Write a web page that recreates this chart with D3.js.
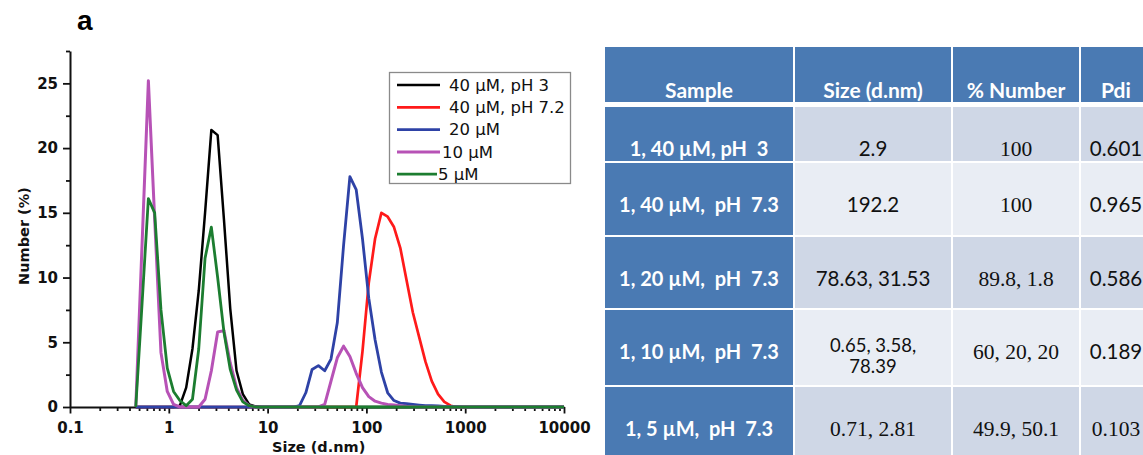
<!DOCTYPE html>
<html>
<head>
<meta charset="utf-8">
<script src="https://cdn.jsdelivr.net/npm/d3@7"></script>
<style>
  html, body { margin: 0; padding: 0; background: #ffffff; }
  svg { display: block; }
  text { white-space: pre; }
</style>
</head>
<body>
<svg id="fig" width="1143" height="455"></svg>
<script>
// Size classes (d.nm) of the number distribution
const sizeBins = [0.4632, 0.5365, 0.6213, 0.7195, 0.8332, 0.9649, 1.117, 1.294, 1.499, 1.736,
  2.01, 2.328, 2.696, 3.122, 3.615, 4.187, 4.849, 5.615, 6.503, 7.531,
  8.721, 10.1, 11.7, 13.54, 15.69, 18.17, 21.04, 24.36, 28.21, 32.67,
  37.84, 43.82, 50.75, 58.77, 68.06, 78.82, 91.28, 105.7, 122.4, 141.8,
  164.2, 190.1, 220.2, 255.0, 295.3, 342.0, 396.1, 458.7, 531.2, 615.1,
  712.4, 825.0, 955.4, 1106, 1281, 1484, 1718, 1990, 2305, 2669,
  3091, 3580, 4145, 4801, 5560, 6439, 7456, 8635, 10000];

// Number (%) per size class
const num40pH3 = [0, 0, 0, 0, 0, 0, 0, 0.1, 1.5, 4.5,
  9.0, 15.0, 21.4, 21.0, 14.5, 7.6, 2.8, 1.0, 0.2, 0.05,
  0, 0, 0, 0, 0, 0, 0, 0, 0, 0,
  0, 0, 0, 0, 0, 0, 0, 0, 0, 0,
  0, 0, 0, 0, 0, 0, 0, 0, 0, 0,
  0, 0, 0, 0, 0, 0, 0, 0, 0, 0,
  0, 0, 0, 0, 0, 0, 0, 0, 0];
const num40pH72 = [0, 0, 0, 0, 0, 0, 0, 0, 0, 0,
  0, 0, 0, 0, 0, 0, 0, 0, 0, 0,
  0, 0, 0, 0, 0, 0, 0, 0, 0, 0,
  0, 0, 0, 0, 0, 0, 4.3, 9.6, 13.0, 15.0,
  14.7, 13.9, 12.3, 9.8, 7.3, 5.4, 3.5, 2.0, 1.0, 0.4,
  0.1, 0, 0, 0, 0, 0, 0, 0, 0, 0,
  0, 0, 0, 0, 0, 0, 0, 0, 0];
const num20 = [0, 0, 0, 0, 0, 0, 0, 0, 0, 0,
  0, 0, 0, 0, 0, 0, 0, 0, 0, 0,
  0, 0, 0, 0, 0, 0, 0.1, 1.1, 2.9, 3.2,
  2.8, 3.7, 6.5, 12.5, 17.8, 16.8, 13.0, 8.4, 5.2, 2.7,
  1.1, 0.5, 0.3, 0.25, 0.2, 0.15, 0.1, 0.1, 0.08, 0.05,
  0.03, 0.02, 0.01, 0, 0, 0, 0, 0, 0, 0,
  0, 0, 0, 0, 0, 0, 0, 0, 0];
const num10 = [0, 12.6, 25.2, 14.5, 4.2, 1.2, 0.2, 0, 0, 0,
  0, 0.6, 2.8, 5.8, 5.9, 3.4, 1.5, 0.5, 0.1, 0,
  0, 0, 0, 0, 0, 0, 0, 0, 0, 0,
  0.2, 2.0, 3.8, 4.7, 3.9, 2.6, 1.5, 0.8, 0.45, 0.3,
  0.2, 0.15, 0.1, 0.05, 0.02, 0, 0, 0, 0, 0,
  0, 0, 0, 0, 0, 0, 0, 0, 0, 0,
  0, 0, 0, 0, 0, 0, 0, 0, 0];
const num5 = [0, 8.0, 16.1, 15.0, 7.5, 3.0, 1.2, 0.5, 0.1, 0.6,
  4.5, 11.5, 13.9, 10.0, 5.8, 2.9, 1.3, 0.4, 0.1, 0,
  0, 0, 0, 0, 0, 0, 0, 0, 0, 0,
  0, 0, 0, 0, 0, 0, 0, 0, 0, 0,
  0, 0, 0, 0, 0, 0, 0, 0, 0, 0,
  0, 0, 0, 0, 0, 0, 0, 0, 0, 0,
  0, 0, 0, 0, 0, 0, 0, 0, 0];

const seriesNames = ["40 \u03bcM, pH 3", "40 \u03bcM, pH 7.2", "20 \u03bcM", "10 \u03bcM", "5 \u03bcM"];
const seriesValues = [num40pH3, num40pH72, num20, num10, num5];

const xTickValues = [0.1, 1, 10, 100, 1000, 10000];
const xTickLabels = ["0.1", "1", "10", "100", "1000", "10000"];
const yTickValues = [0, 5, 10, 15, 20, 25];
const yTickLabels = ["0", "5", "10", "15", "20", "25"];

// Summary table
const tableHeader = ["Sample", "Size (d.nm)", "% Number", "Pdi"];
const tableSample = ["1, 40 \u00b5M, pH  3", "1, 40 \u00b5M,  pH  7.3", "1, 20 \u00b5M,  pH  7.3", "1, 10 \u00b5M,  pH  7.3", "1, 5 \u00b5M,  pH  7.3"];
const tableSize = [["2.9"], ["192.2"], ["78.63, 31.53"], ["0.65, 3.58,", "78.39"], ["0.71, 2.81"]];
const tableNumber = ["100", "100", "89.8, 1.8", "60, 20, 20", "49.9, 50.1"];
const tablePdi = ["0.601", "0.965", "0.586", "0.189", "0.103"];

// ---------- styles ----------
const seriesColors = ["#000000", "#ff1a1a", "#2e42a6", "#b752b6", "#1c7d30"];
const seriesWidths = [2.5, 2.7, 2.8, 3.0, 2.8];
const tickFont = "'DejaVu Sans', sans-serif";

const svg = d3.select("#fig");

// ---------- chart ----------
const x = d3.scaleLog().domain([0.1, 10000]).range([70, 564]);
const y = d3.scaleLinear().domain([0, 27.5]).range([407, 51]);

svg.append("text")
  .attr("x", 77).attr("y", 30)
  .attr("font-family", "'Liberation Sans', Arial, sans-serif")
  .attr("font-weight", "bold").attr("font-size", 28)
  .text("a");

const minorX = [];
[0.1, 1, 10, 100, 1000].forEach(d => { for (let k = 2; k <= 9; k++) minorX.push(d * k); });
const minorY = [2.5, 7.5, 12.5, 17.5, 22.5, 27.5];

const gx = svg.append("g").attr("transform", `translate(0,${y(0)})`);
gx.append("g").call(d3.axisBottom(x).tickValues(minorX).tickSize(4).tickSizeOuter(0).tickFormat(""))
  .call(g => g.select(".domain").remove());
gx.append("g").call(d3.axisBottom(x).tickValues(xTickValues).tickSize(6.5).tickSizeOuter(0)
  .tickFormat((d, i) => xTickLabels[i]));
gx.selectAll("text").attr("y", 15).attr("dy", "0.71em")
  .attr("font-family", tickFont).attr("font-weight", "bold").attr("font-size", 15).attr("fill", "#111");

const gy = svg.append("g").attr("transform", `translate(${x(0.1)},0)`);
gy.append("g").call(d3.axisLeft(y).tickValues(minorY).tickSize(4).tickSizeOuter(0).tickFormat(""))
  .call(g => g.select(".domain").remove());
gy.append("g").call(d3.axisLeft(y).tickValues(yTickValues).tickSize(7).tickSizeOuter(0)
  .tickFormat((d, i) => yTickLabels[i]));
gy.selectAll("text").attr("x", -12)
  .attr("font-family", tickFont).attr("font-weight", "bold").attr("font-size", 15).attr("fill", "#111");

svg.selectAll(".domain").attr("stroke", "#111").attr("stroke-width", 2);
svg.selectAll(".tick line").attr("stroke", "#111").attr("stroke-width", 1.8);

svg.append("text")
  .attr("transform", `translate(29,236) rotate(-90)`)
  .attr("text-anchor", "middle")
  .attr("font-family", tickFont).attr("font-weight", "bold").attr("font-size", 14.5).attr("fill", "#111")
  .text("Number (%)");
svg.append("text")
  .attr("x", 272).attr("y", 452)
  .attr("font-family", tickFont).attr("font-weight", "bold").attr("font-size", 14.5).attr("fill", "#111")
  .text("Size (d.nm)");

const line = d3.line().x(d => x(d[0])).y(d => y(d[1]));
svg.append("g").selectAll("path")
  .data(seriesValues.map(vals => vals.map((v, i) => [sizeBins[i], v])))
  .join("path")
  .attr("d", line)
  .attr("fill", "none")
  .attr("stroke", (d, i) => seriesColors[i])
  .attr("stroke-width", (d, i) => seriesWidths[i])
  .attr("stroke-linejoin", "round");

// legend
const legend = svg.append("g");
legend.append("rect")
  .attr("x", 389.5).attr("y", 72.5).attr("width", 181).attr("height", 111)
  .attr("fill", "#fff").attr("stroke", "#8a8a8a").attr("stroke-width", 1.3);
const legendTextX = [449, 449, 449, 442, 438];
const legendLineEnd = [440, 440, 440, 440, 437];
const legendRow = legend.selectAll("g.item").data(seriesNames).join("g").attr("class", "item")
  .attr("transform", (d, i) => `translate(0,${85 + i * 22.3})`);
legendRow.append("line")
  .attr("x1", 397).attr("x2", (d, i) => legendLineEnd[i]).attr("y1", 0).attr("y2", 0)
  .attr("stroke", (d, i) => seriesColors[i]).attr("stroke-width", (d, i) => seriesWidths[i]);
legendRow.append("text")
  .attr("x", (d, i) => legendTextX[i]).attr("y", 5.8)
  .attr("font-family", tickFont).attr("font-size", 16.5).attr("fill", "#111")
  .text(d => d);

// ---------- table ----------
const colEdges = [605, 795, 953, 1081, 1153];
const colCenters = colEdges.slice(0, 4).map((e, i) => (e + colEdges[i + 1] - 2) / 2);
const headerBox = [47, 102];
const rowTops = [107, 163, 237, 310, 387];
const rowBottoms = [161, 235, 308, 385, 462];
const blue = "#4a7ab3";
const shadeDark = "#cfd7e6";
const shadeLight = "#e9edf4";
const sansBody = "Lato, 'Open Sans', sans-serif";
const serifBody = "'Liberation Serif', 'Times New Roman', serif";
const serifSizeRows = [4];

const table = svg.append("g");
// header
table.selectAll("rect.h").data(tableHeader).join("rect").attr("class", "h")
  .attr("x", (d, i) => colEdges[i]).attr("y", headerBox[0])
  .attr("width", (d, i) => colEdges[i + 1] - colEdges[i] - 2)
  .attr("height", headerBox[1] - headerBox[0])
  .attr("fill", blue);
table.selectAll("text.h").data(tableHeader).join("text").attr("class", "h")
  .attr("x", (d, i) => colCenters[i]).attr("y", 98)
  .attr("text-anchor", "middle")
  .attr("font-family", sansBody).attr("font-weight", "bold").attr("font-size", 21)
  .attr("fill", "#fff").text(d => d);

// body
const rows = table.selectAll("g.row").data(tableSample).join("g").attr("class", "row");
rows.each(function (sample, r) {
  const g = d3.select(this);
  const top = rowTops[r], h = rowBottoms[r] - rowTops[r];
  const shade = r % 2 === 0 ? shadeDark : shadeLight;
  for (let c = 0; c < 4; c++) {
    g.append("rect")
      .attr("x", colEdges[c]).attr("y", top)
      .attr("width", colEdges[c + 1] - colEdges[c] - 2).attr("height", h)
      .attr("fill", c === 0 ? blue : shade);
  }
  const base = top + 48.5;
  g.append("text")
    .attr("x", colCenters[0]).attr("y", base).attr("text-anchor", "middle")
    .attr("font-family", sansBody).attr("font-weight", "bold").attr("font-size", 20)
    .attr("fill", "#fff").text(sample);

  const serifRow = serifSizeRows.includes(r);
  const sizeLines = tableSize[r];
  if (sizeLines.length > 1) {
    sizeLines.forEach((s, k) => {
      g.append("text")
        .attr("x", colCenters[1]).attr("y", top + 42 + k * 21)
        .attr("text-anchor", "middle")
        .attr("font-family", sansBody).attr("font-size", 18.5)
        .attr("fill", "#111").text(s);
    });
  } else {
    g.append("text")
      .attr("x", colCenters[1]).attr("y", base).attr("text-anchor", "middle")
      .attr("font-family", serifRow ? serifBody : sansBody)
      .attr("font-size", serifRow ? 21.5 : 20.5)
      .attr("fill", "#111").text(sizeLines[0]);
  }

  g.append("text")
    .attr("x", colCenters[2]).attr("y", base).attr("text-anchor", "middle")
    .attr("font-family", serifBody).attr("font-size", 21.5)
    .attr("fill", "#111").text(tableNumber[r]);

  g.append("text")
    .attr("x", colCenters[3]).attr("y", base).attr("text-anchor", "middle")
    .attr("font-family", serifRow ? serifBody : sansBody)
    .attr("font-size", serifRow ? 21.5 : 20.5)
    .attr("fill", "#111").text(tablePdi[r]);
});
</script>
</body>
</html>
